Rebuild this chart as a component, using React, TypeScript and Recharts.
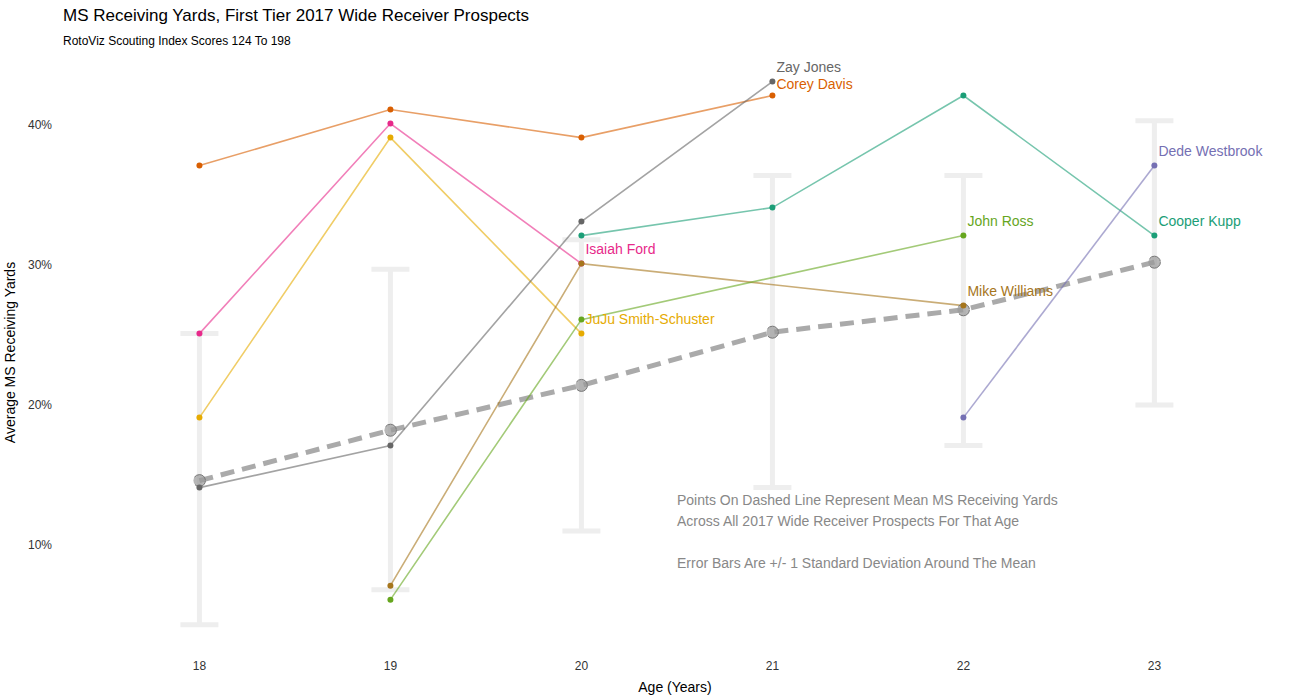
import { ComposedChart, Line, Scatter, ErrorBar, XAxis, YAxis } from "recharts";

const ages = [18, 19, 20, 21, 22, 23];
const coreyDavis = [37.1, 41.1, 39.1, 42.1, null, null];
const isaiahFord = [25.1, 40.1, 30.1, null, null, null];
const jujuSmith = [19.1, 39.1, 25.1, null, null, null];
const zayJones = [14.1, 17.1, 33.1, 43.1, null, null];
const mikeWilliams = [null, 7.1, 30.1, null, 27.1, null];
const johnRoss = [null, 6.1, 26.1, null, 32.1, null];
const cooperKupp = [null, null, 32.1, 34.1, 42.1, 32.1];
const dedeWestbrook = [null, null, null, null, 19.1, 37.1];
const meanMS = [14.6, 18.2, 21.4, 25.2, 26.8, 30.2];
const errLow = [4.3, 6.8, 11.0, 14.1, 17.1, 20.0];
const errHigh = [25.1, 29.7, 31.8, 36.4, 36.4, 40.3];

const players = [
  { key: "corey", name: "Corey Davis", vals: coreyDavis, color: "#d95f02", at: 3, dx: 4, dy: -12 },
  { key: "isaiah", name: "Isaiah Ford", vals: isaiahFord, color: "#e7298a", at: 2, dx: 4, dy: -15 },
  { key: "juju", name: "JuJu Smith-Schuster", vals: jujuSmith, color: "#e6ab02", at: 2, dx: 4, dy: -15 },
  { key: "zay", name: "Zay Jones", vals: zayJones, color: "#666666", at: 3, dx: 4, dy: -15 },
  { key: "mike", name: "Mike Williams", vals: mikeWilliams, color: "#a6761d", at: 4, dx: 4, dy: -15 },
  { key: "ross", name: "John Ross", vals: johnRoss, color: "#66a61e", at: 4, dx: 4, dy: -15 },
  { key: "kupp", name: "Cooper Kupp", vals: cooperKupp, color: "#1b9e77", at: 5, dx: 4, dy: -15 },
  { key: "dede", name: "Dede Westbrook", vals: dedeWestbrook, color: "#7570b3", at: 5, dx: 4, dy: -15 },
];

const data = ages.map((age, i) => {
  const row: Record<string, any> = {
    age,
    mean: meanMS[i],
    err: [meanMS[i] - errLow[i], errHigh[i] - meanMS[i]],
  };
  players.forEach((p) => (row[p.key] = p.vals[i]));
  return row;
});

const font = "'Liberation Sans', Arial, sans-serif";

export default function App() {
  return (
    <div style={{ position: "absolute", left: 0, top: 0, width: 1300, height: 700, background: "#fff", fontFamily: font }}>
      <div style={{ position: "absolute", left: 63, top: 6, fontSize: 17, color: "#000" }}>
        MS Receiving Yards, First Tier 2017 Wide Receiver Prospects
      </div>
      <div style={{ position: "absolute", left: 63, top: 34, fontSize: 12, color: "#000" }}>
        RotoViz Scouting Index Scores 124 To 198
      </div>
      <div style={{ position: "absolute", left: 677, top: 490, fontSize: 14, color: "#888", lineHeight: "21px" }}>
        Points On Dashed Line Represent Mean MS Receiving Yards
        <br />
        Across All 2017 Wide Receiver Prospects For That Age
        <br />
        <br />
        Error Bars Are +/- 1 Standard Deviation Around The Mean
      </div>
      <ComposedChart width={1300} height={700} data={data} margin={{ top: 60, right: 10, bottom: 0, left: 0 }}>
        <XAxis
          dataKey="age"
          type="number"
          domain={[17.27, 23.71]}
          ticks={ages}
          axisLine={false}
          tickLine={false}
          tick={{ fontSize: 12, fill: "#333", fontFamily: font }}
          tickMargin={10}
          height={55}
          label={{ value: "Age (Years)", position: "insideBottom", offset: 8, fontSize: 14, fill: "#000", fontFamily: font }}
        />
        <YAxis
          type="number"
          domain={[2.86, 44.64]}
          ticks={[10, 20, 30, 40]}
          tickFormatter={(v) => `${v}%`}
          axisLine={false}
          tickLine={false}
          width={60}
          tick={{ fontSize: 12, fill: "#333", fontFamily: font }}
          label={{ value: "Average MS Receiving Yards", angle: -90, position: "insideLeft", offset: 10, fontSize: 14, fill: "#000", fontFamily: font, style: { textAnchor: "middle" } }}
        />
        <Scatter dataKey="mean" fill="none" shape={() => null} isAnimationActive={false}>
          <ErrorBar dataKey="err" width={19} stroke="#eeeeee" strokeWidth={5} direction="y" />
        </Scatter>
        <Line
          dataKey="mean"
          stroke="#aaaaaa"
          strokeWidth={5}
          strokeDasharray="14 8"
          dot={{ r: 6, fill: "#999", fillOpacity: 0.7, stroke: "#777", strokeWidth: 1 }}
          isAnimationActive={false}
        />
        {players.map((p) => (
          <Line
            key={p.key}
            dataKey={p.key}
            connectNulls
            stroke={p.color}
            strokeOpacity={0.6}
            strokeWidth={1.6}
            dot={{ r: 3, fill: p.color, stroke: p.color, strokeWidth: 0 }}
            isAnimationActive={false}
            label={(props: any) =>
              props.index === p.at ? (
                <text key={p.key + "l"} x={props.x + p.dx} y={props.y + p.dy + 5} fill={p.color} fontSize={14} fontFamily={font}>
                  {p.name}
                </text>
              ) : null
            }
          />
        ))}
      </ComposedChart>
    </div>
  );
}
